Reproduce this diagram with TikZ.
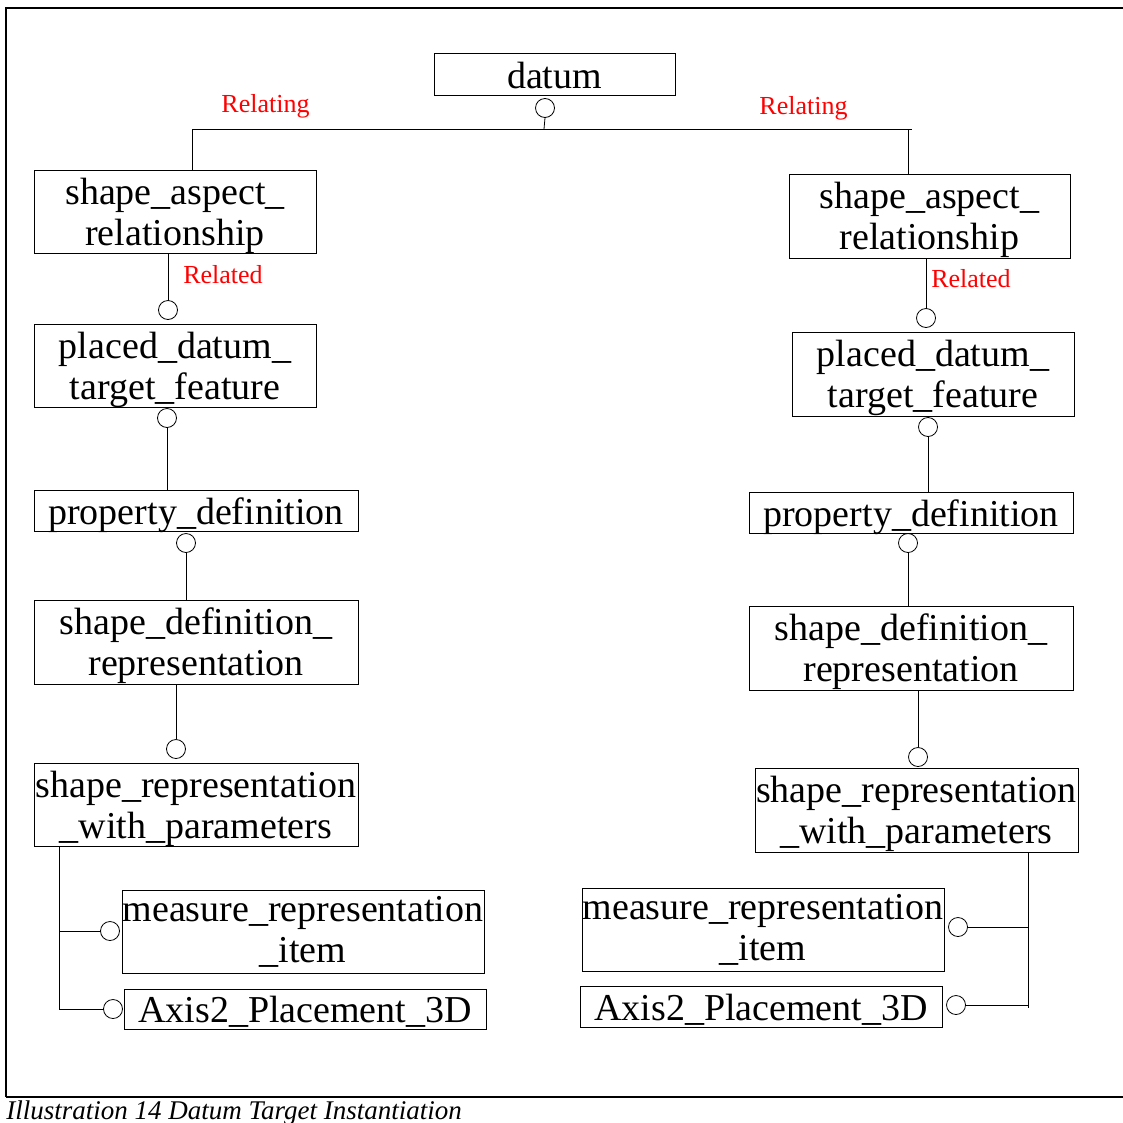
\documentclass[tikz,border=0pt]{standalone}
\usepackage{fontspec}
\setmainfont{Liberation Serif}
\begin{document}
\begin{tikzpicture}[x=1pt, y=-1pt, line width=0.8pt,
  box/.style={draw, inner sep=0pt, align=center, text depth=0pt, text height=67pt, font=\fontsize{38}{41}\selectfont},
  oneline/.style={box, text height=27pt},
  port/.style={draw, circle, inner sep=0pt, minimum size=19pt},
  role/.style={text=red, inner sep=0pt, anchor=base, font=\fontsize{26}{28}\selectfont}]
\useasboundingbox (0,0) rectangle (1123,1122);
\draw[line width=1.2pt] (6,1097) -- (6,8) -- (1123,8);
\draw[line width=1.2pt] (6,1097) -- (1123,1097);
\node[inner sep=0pt, anchor=base west, font=\fontsize{27}{29}\selectfont\itshape] (T_0) at (6,1119) {Illustration 14 Datum Target Instantiation};
\node[oneline, text height=29pt, minimum width=241pt, minimum height=42pt] (P_0_0) at (554.5,74) {datum};
\node[port] (C_0_0) at (545,108) {};
\coordinate (J_0) at (544,129);
\coordinate (J_1) at (192,129);
\coordinate (J_2) at (908,129);
\coordinate (J_3) at (912,129);
\draw (C_0_0.south) -- (J_0);
\node[box, minimum width=282pt, minimum height=83pt] (P_0_1) at (175,211.5) {shape\_aspect\_\\relationship};
\node[box, minimum width=281pt, minimum height=84pt] (P_1_1) at (929.5,216) {shape\_aspect\_\\relationship};
\draw (J_1 |- P_0_1.north) -- (J_1) -- (J_3);
\draw (J_2) -- (J_2 |- P_1_1.north);
\node[role] (R_0_1) at (265.5,112) {Relating};
\node[role] (R_1_1) at (803.5,114) {Relating};
\node[box, minimum width=282pt, minimum height=83pt] (P_0_2) at (175,365.5) {placed\_datum\_\\target\_feature};
\node[port] (C_0_2) at (168,310) {};
\draw (C_0_2 |- P_0_1.south) -- (C_0_2.north);
\node[role] (R_0_2) at (223,283) {Related};
\node[box, minimum width=282pt, minimum height=84pt] (P_1_2) at (933,374) {placed\_datum\_\\target\_feature};
\node[port] (C_1_2) at (926,318) {};
\draw (C_1_2 |- P_1_1.south) -- (C_1_2.north);
\node[role] (R_1_2) at (971,287) {Related};
\node[oneline, minimum width=324pt, minimum height=41pt] (P_0_3) at (196,510.5) {property\_definition};
\node[port] (C_0_3) at (167,418) {};
\draw (C_0_3.south) -- (C_0_3 |- P_0_3.north);
\node[oneline, minimum width=324pt, minimum height=41pt] (P_1_3) at (911,512.5) {property\_definition};
\node[port] (C_1_3) at (928,427) {};
\draw (C_1_3.south) -- (C_1_3 |- P_1_3.north);
\node[box, minimum width=324pt, minimum height=84pt] (P_0_4) at (196,642) {shape\_definition\_\\representation};
\node[port] (C_0_4) at (186,543) {};
\draw (C_0_4.south) -- (C_0_4 |- P_0_4.north);
\node[box, minimum width=324pt, minimum height=84pt] (P_1_4) at (911,648) {shape\_definition\_\\representation};
\node[port] (C_1_4) at (908,543) {};
\draw (C_1_4.south) -- (C_1_4 |- P_1_4.north);
\node[box, minimum width=324pt, minimum height=83pt] (P_0_5) at (196,804.5) {shape\_representation\\\_with\_parameters};
\node[port] (C_0_5) at (176,749) {};
\draw (C_0_5 |- P_0_4.south) -- (C_0_5.north);
\node[box, minimum width=323pt, minimum height=84pt] (P_1_5) at (916.5,810) {shape\_representation\\\_with\_parameters};
\node[port] (C_1_5) at (918,757) {};
\draw (C_1_5 |- P_1_4.south) -- (C_1_5.north);
\node[box, text height=62pt, minimum width=362pt, minimum height=83pt] (P_0_6) at (303,931.5) {measure\_representation\\\_item};
\node[port] (C_0_6) at (110,931) {};
\node[oneline, minimum width=362pt, minimum height=40pt] (P_0_7) at (305,1009) {Axis2\_Placement\_3D};
\node[port] (C_0_7) at (113,1009) {};
\coordinate (K_0) at (59,931);
\coordinate (K_1) at (59,1009);
\draw (K_0 |- P_0_5.south) -- (K_1) -- (C_0_7.west);
\draw (K_0) -- (C_0_6.west);
\node[box, text height=62pt, minimum width=362pt, minimum height=83pt] (P_1_6) at (763,929.5) {measure\_representation\\\_item};
\node[port] (C_1_6) at (958,927) {};
\node[oneline, minimum width=362pt, minimum height=41pt] (P_1_7) at (761,1006.5) {Axis2\_Placement\_3D};
\node[port] (C_1_7) at (956,1005) {};
\coordinate (K_2) at (1028,927);
\coordinate (K_3) at (1028,1005);
\coordinate (K_4) at (1028,1008);
\draw (K_2 |- P_1_5.south) -- (K_4);
\draw (C_1_6.east) -- (K_2);
\draw (C_1_7.east) -- (K_3);
\end{tikzpicture}
\end{document}
